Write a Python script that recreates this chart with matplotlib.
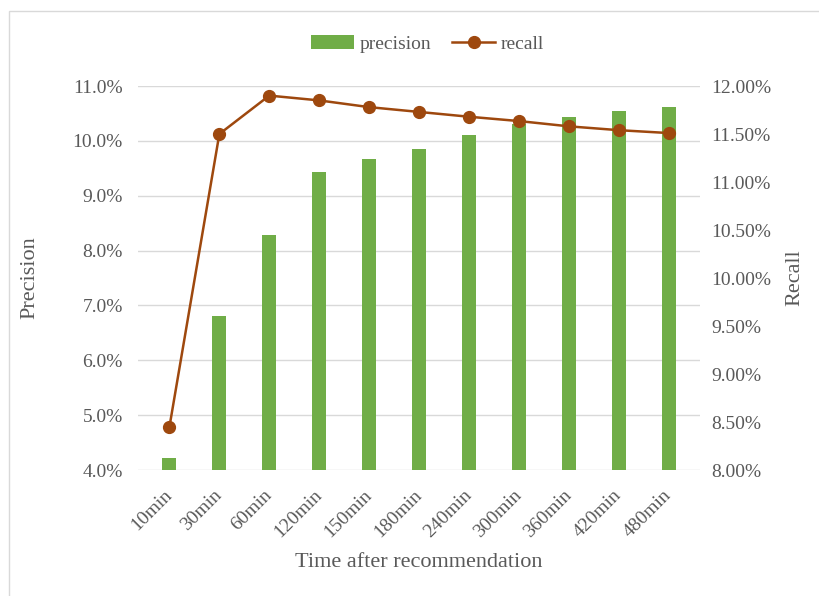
import numpy as np
import matplotlib.pyplot as plt
from matplotlib.patches import Rectangle
from matplotlib.ticker import FuncFormatter

plt.rcParams['font.family'] = ['Liberation Serif', 'DejaVu Serif']

# -----------------------------------------------------------------------------
# Data

times = ['10min', '30min', '60min', '120min', '150min', '180min',
         '240min', '300min', '360min', '420min', '480min']
precision = [4.22, 6.81, 8.28, 9.43, 9.67, 9.85, 10.11, 10.30, 10.43,
             10.54, 10.62]
recall = [8.45, 11.50, 11.90, 11.85, 11.78, 11.73, 11.68, 11.635, 11.58,
          11.54, 11.51]

txt_col = '#595959'
grid_col = '#d9d9d9'

# -----------------------------------------------------------------------------

fig = plt.figure(figsize=(8.19, 5.96), dpi=100)
fig.patches.append(Rectangle((9 / 819, -0.1), 1.2, 1 - 11 / 596 + 0.1,
                             transform=fig.transFigure, fill=False,
                             edgecolor=grid_col, lw=1))

ax = fig.add_axes([0.1685, 0.2114, 0.6862, 0.6443])
ax2 = ax.twinx()

x = np.arange(len(times))
ax.set_axisbelow(True)
ax.bar(x, precision, width=0.28, color='#70ad47', label='precision',
       zorder=2)
ax2.plot(x, recall, color='#9e480e', lw=1.8, marker='o', markersize=8.5,
         label='recall')

ax.set_xlim(-0.63, len(times) - 1 + 0.63)
ax.set_ylim(4.0, 11.0)
ax.set_yticks(np.arange(4.0, 11.01, 1.0))
ax.yaxis.set_major_formatter(FuncFormatter(lambda v, p: '{:.1f}%'.format(v)))
ax2.set_ylim(8.0, 12.0)
ax2.set_yticks(np.arange(8.0, 12.01, 0.5))
ax2.yaxis.set_major_formatter(FuncFormatter(lambda v, p: '{:.2f}%'.format(v)))

ax.grid(axis='y', color=grid_col, lw=1)
for a in (ax, ax2):
    for s in a.spines.values():
        s.set_visible(False)
    a.tick_params(length=0, labelsize=14, colors=txt_col)
ax.tick_params(axis='y', pad=11)
ax2.tick_params(axis='y', pad=8)

ax.set_xticks(x)
ax.set_xticklabels(times, rotation=45, ha='right', va='center',
                   rotation_mode='anchor')
ax.tick_params(axis='x', pad=16)

ax.set_ylabel('Precision', fontsize=16, color=txt_col, va='center')
ax.yaxis.set_label_coords(-0.192, 0.5)
ax2.set_ylabel('Recall', fontsize=16, color=txt_col, va='center')
ax2.yaxis.set_label_coords(1.169, 0.5)
ax.set_xlabel('Time after recommendation', fontsize=16, color=txt_col,
              va='center')
ax.xaxis.set_label_coords(0.5, -0.242)

h1, l1 = ax.get_legend_handles_labels()
h2, l2 = ax2.get_legend_handles_labels()
fig.legend(h1 + h2, l1 + l2, loc='center', bbox_to_anchor=(0.522, 0.926),
           ncol=2, frameon=False, fontsize=14, labelcolor=txt_col,
           handlelength=2.2, columnspacing=1.1, handletextpad=0.3)

plt.savefig('out.png', dpi=100)
